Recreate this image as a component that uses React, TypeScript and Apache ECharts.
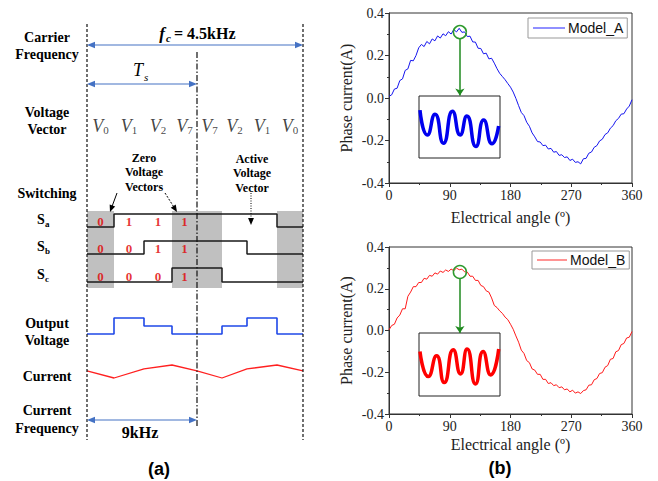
import React, { useEffect, useRef } from 'react';
import * as echarts from 'echarts';

// ---------- (a) switching diagram data ----------
const SEG_T = [0, 27, 57, 85, 110, 135, 160, 190, 216];
const VECTORS = ['0', '1', '2', '7', '7', '2', '1', '0'];
const SA = [0, 1, 1, 1, 1, 1, 1, 0];
const SB = [0, 0, 1, 1, 1, 1, 0, 0];
const SC = [0, 0, 0, 1, 1, 0, 0, 0];
const VOUT = [0, 2, 1, 0, 0, 1, 2, 0];
const CURRENT = [0.55, 0, 0.7, 1, 0.55, 0, 0.7, 1, 0.55];
const SHADED = [[0, 1], [3, 5], [7, 8]];

// ---------- (b) phase current data ----------
const ANGLES = [0, 4, 8, 12, 16, 20, 24, 28, 32, 36, 40, 44, 48, 52, 56, 60, 64, 68, 72, 76, 80, 84, 88, 92, 96, 100,
  104, 108, 112, 116, 120, 124, 128, 132, 136, 140, 144, 148, 152, 156, 160, 164, 168, 172, 176, 180, 184, 188, 192,
  196, 200, 204, 208, 212, 216, 220, 224, 228, 232, 236, 240, 244, 248, 252, 256, 260, 264, 268, 272, 276, 280, 284,
  288, 292, 296, 300, 304, 308, 312, 316, 320, 324, 328, 332, 336, 340, 344, 348, 352, 356, 360];
const MODEL_A = [0.008, 0.015, 0.042, 0.046, 0.082, 0.09, 0.13, 0.137, 0.177, 0.175, 0.2, 0.236, 0.252, 0.242, 0.266,
  0.255, 0.278, 0.269, 0.292, 0.282, 0.302, 0.293, 0.312, 0.301, 0.322, 0.311, 0.328, 0.309, 0.311, 0.289, 0.291, 0.264,
  0.263, 0.234, 0.233, 0.208, 0.211, 0.184, 0.187, 0.164, 0.138, 0.116, 0.101, 0.086, 0.068, 0.051, 0.028, -0.002,
  -0.036, -0.068, -0.083, -0.114, -0.133, -0.164, -0.183, -0.205, -0.207, -0.224, -0.222, -0.24, -0.237, -0.255,
  -0.252, -0.27, -0.267, -0.28, -0.277, -0.294, -0.288, -0.303, -0.3, -0.31, -0.286, -0.284, -0.26, -0.254, -0.232,
  -0.224, -0.202, -0.194, -0.172, -0.164, -0.142, -0.13, -0.107, -0.096, -0.076, -0.074, -0.052, -0.038, -0.008];
const MODEL_B = [0.003, 0.024, 0.03, 0.06, 0.074, 0.104, 0.104, 0.164, 0.184, 0.21, 0.21, 0.23, 0.23, 0.25, 0.246, 0.264,
  0.26, 0.276, 0.27, 0.285, 0.278, 0.29, 0.283, 0.294, 0.287, 0.299, 0.291, 0.294, 0.281, 0.28, 0.26, 0.26, 0.24, 0.24,
  0.216, 0.21, 0.19, 0.184, 0.156, 0.12, 0.11, 0.094, 0.082, 0.064, 0.052, 0.03, 0.006, -0.026, -0.056, -0.094, -0.11,
  -0.144, -0.154, -0.184, -0.19, -0.21, -0.21, -0.234, -0.234, -0.254, -0.25, -0.264, -0.26, -0.274, -0.27, -0.284,
  -0.28, -0.294, -0.286, -0.3, -0.294, -0.302, -0.288, -0.284, -0.262, -0.26, -0.236, -0.23, -0.206, -0.202, -0.176,
  -0.168, -0.138, -0.134, -0.102, -0.096, -0.068, -0.062, -0.036, -0.032, -0.005];
const X_TICKS = { min: 0, max: 360, interval: 90 };
const Y_TICKS = { min: -0.4, max: 0.4, interval: 0.2 };
// zoomed insets (x fraction, y value)
const INSET_A_X = [0.012, 0.103, 0.198, 0.302, 0.413, 0.508, 0.591, 0.702, 0.798, 0.901, 0.983];
const INSET_A_Y = [0.771, 0.372, 0.707, 0.239, 0.755, 0.372, 0.676, 0.186, 0.612, 0.229, 0.516];
const INSET_B_X = [0.012, 0.115, 0.217, 0.311, 0.422, 0.512, 0.594, 0.697, 0.791, 0.885, 0.984];
const INSET_B_Y = [0.707, 0.309, 0.638, 0.213, 0.734, 0.351, 0.745, 0.191, 0.707, 0.335, 0.745];
const ZOOM_A = { angle: 105, circle: 0.31, from: 0.282, to: 0.012 };
const ZOOM_B = { angle: 105, circle: 0.28, from: 0.247, to: -0.012 };

const SERIF = 'Liberation Serif';
const SANS = 'Liberation Sans';

function stepData(states: number[]) {
  const d = states.map((s, i) => [SEG_T[i], s]);
  d.push([SEG_T[SEG_T.length - 1], states[states.length - 1]]);
  return d;
}
function digitData(states: number[]) {
  return [0, 1, 2, 3].map((i) => [(SEG_T[i] + SEG_T[i + 1]) / 2, 0.42, states[i]]);
}

function arrowEls(x1: number, y1: number, x2: number, y2: number, color: string, o: any = {}) {
  const size = o.size ?? 7;
  const width = o.width ?? 1.2;
  const both = o.both ?? false;
  const dx = x2 - x1, dy = y2 - y1, L = Math.hypot(dx, dy);
  const ux = dx / L, uy = dy / L, nx = -uy, ny = ux;
  const w = size * 0.42;
  const head = (tx: number, ty: number, ax: number, ay: number) => ({
    type: 'polygon', silent: true, z: 20,
    shape: { points: [[tx, ty], [tx - ax * size + nx * w, ty - ay * size + ny * w], [tx - ax * size - nx * w, ty - ay * size - ny * w]] },
    style: { fill: color },
  });
  const els: any[] = [];
  let sx = x1, sy = y1;
  if (both) { els.push(head(x1, y1, -ux, -uy)); sx = x1 + ux * size * 0.8; sy = y1 + uy * size * 0.8; }
  els.push(head(x2, y2, ux, uy));
  const ex = x2 - ux * size * 0.8, ey = y2 - uy * size * 0.8;
  els.unshift({ type: 'line', silent: true, z: 20, shape: { x1: sx, y1: sy, x2: ex, y2: ey }, style: { stroke: color, lineWidth: width, lineDash: o.dash } });
  return els;
}

function txt(x: number, y: number, text: string, o: any = {}) {
  return {
    type: 'text', x, y, silent: true, z: 20,
    style: {
      text, fill: o.fill ?? '#000', fontFamily: o.fontFamily ?? SERIF, fontSize: o.fontSize ?? 14,
      fontWeight: o.fontWeight ?? 'bold', fontStyle: o.fontStyle ?? 'normal', align: o.align ?? 'center',
      verticalAlign: 'middle', lineHeight: o.lineHeight,
    },
  };
}

export default function App() {
  const ref = useRef<HTMLDivElement>(null);
  useEffect(() => {
    document.body.style.margin = '0';
    const chart = echarts.init(ref.current!, undefined, { renderer: 'svg' });

    const hiddenX = (g: number, min = 0, max = 216) => ({ type: 'value', gridIndex: g, min, max, show: false });
    const hiddenY = (g: number, min = 0, max = 1) => ({ type: 'value', gridIndex: g, min, max, show: false });

    const axisColor = '#333';
    const mainX = (g: number, gap: number) => ({
      type: 'value', gridIndex: g, ...X_TICKS,
      axisLine: { show: true, onZero: false, lineStyle: { color: axisColor, width: 1 } },
      axisTick: { show: true, inside: false, length: 4, lineStyle: { color: axisColor } },
      minorTick: { show: true, splitNumber: 2, length: 2, lineStyle: { color: axisColor } },
      splitLine: { show: false },
      axisLabel: { fontFamily: SERIF, fontSize: 14, color: '#222', margin: 5 },
      name: 'Electrical angle (º)', nameLocation: 'middle', nameGap: gap,
      nameTextStyle: { fontFamily: SERIF, fontSize: 16, color: '#222' },
    });
    const mainY = (g: number) => ({
      type: 'value', gridIndex: g, ...Y_TICKS,
      axisLine: { show: true, onZero: false, lineStyle: { color: axisColor, width: 1 } },
      axisTick: { show: true, inside: false, length: 4, lineStyle: { color: axisColor } },
      minorTick: { show: true, splitNumber: 2, length: 2, lineStyle: { color: axisColor } },
      splitLine: { show: false },
      axisLabel: { fontFamily: SERIF, fontSize: 14, color: '#222', margin: 5, formatter: (v: number) => v.toFixed(1) },
      name: 'Phase current(A)', nameLocation: 'middle', nameGap: 35,
      nameTextStyle: { fontFamily: SERIF, fontSize: 16, color: '#222' },
    });

    const blk = '#1a1a1a';
    const sLine = (g: number, states: number[]) => ({
      type: 'line', xAxisIndex: g, yAxisIndex: g, data: stepData(states), step: 'end', symbol: 'none', clip: false,
      lineStyle: { color: blk, width: 1.5 }, z: 3,
    });
    const digits = (g: number, states: number[]) => ({
      type: 'scatter', xAxisIndex: g, yAxisIndex: g, data: digitData(states), symbolSize: 1,
      itemStyle: { color: 'rgba(0,0,0,0)' }, z: 4, silent: true,
      label: { show: true, position: 'inside', formatter: (p: any) => String(p.value[2]), color: '#e00000', fontFamily: SERIF, fontWeight: 'bold', fontSize: 13 },
    });

    const zoomMarks = (z: any) => ({
      markPoint: {
        silent: true, symbol: 'circle', symbolSize: 13, label: { show: false },
        itemStyle: { color: 'rgba(0,0,0,0)', borderColor: '#2e9a2e', borderWidth: 1.5 },
        data: [{ coord: [z.angle, z.circle] }],
      },
      markLine: {
        silent: true, symbol: ['none', 'arrow'], symbolSize: 7, label: { show: false },
        lineStyle: { color: '#1f8a1f', width: 1.5, type: 'solid' },
        data: [[{ coord: [z.angle, z.from] }, { coord: [z.angle, z.to] }]],
      },
    });

    const graphics: any[] = [
      // vertical period lines
      { type: 'line', silent: true, z: 15, shape: { x1: 87, y1: 24, x2: 87, y2: 440 }, style: { stroke: '#111', lineWidth: 1.2, lineDash: [3, 2] } },
      { type: 'line', silent: true, z: 15, shape: { x1: 303, y1: 24, x2: 303, y2: 440 }, style: { stroke: '#111', lineWidth: 1.2, lineDash: [3, 2] } },
      { type: 'line', silent: true, z: 15, shape: { x1: 197, y1: 52, x2: 197, y2: 427 }, style: { stroke: '#111', lineWidth: 1.2, lineDash: [6, 2, 1.5, 2] } },
      ...arrowEls(87, 45, 303, 45, '#4472c4', { both: true, size: 8 }),
      ...arrowEls(87, 84, 197, 84, '#4472c4', { both: true, size: 8 }),
      ...arrowEls(87, 420, 197, 420, '#4472c4', { both: true, size: 8 }),
      ...arrowEls(117, 193, 110, 212, '#000', { size: 7, width: 1 }),
      ...arrowEls(165, 193, 177, 212, '#000', { size: 7, width: 1, dash: [2, 1.5] }),
      ...arrowEls(251, 193, 251, 225, '#000', { size: 7, width: 1, dash: [1, 1.5] }),
      // row labels
      txt(47, 45.5, 'Carrier\nFrequency', { lineHeight: 17 }),
      txt(47, 120.5, 'Voltage\nVector', { lineHeight: 17 }),
      txt(47, 193, 'Switching'),
      txt(41, 219, 'S'), txt(45, 224, 'a', { fontSize: 9, align: 'left' }),
      txt(41, 246, 'S'), txt(45, 251, 'b', { fontSize: 9, align: 'left' }),
      txt(41, 274, 'S'), txt(45, 279, 'c', { fontSize: 9, align: 'left' }),
      txt(47, 331.5, 'Output\nVoltage', { lineHeight: 17 }),
      txt(47, 376, 'Current'),
      txt(47, 419, 'Current\nFrequency', { lineHeight: 18 }),
      // annotations
      txt(162, 33, 'f', { fontSize: 17, fontStyle: 'italic' }),
      txt(166, 38, 'c', { fontSize: 11, fontStyle: 'italic', align: 'left' }),
      txt(174, 33, '= 4.5kHz', { fontSize: 16, align: 'left' }),
      txt(138, 70, 'T', { fontSize: 18, fontStyle: 'italic', fontWeight: 'normal' }),
      txt(144, 77, 's', { fontSize: 11, fontStyle: 'italic', fontWeight: 'normal', align: 'left' }),
      txt(144, 172, 'Zero\nVoltage\nVectors', { fontSize: 12, lineHeight: 14.5 }),
      txt(252, 173, 'Active\nVoltage\nVector', { fontSize: 12, lineHeight: 14.5 }),
      txt(140, 432, '9kHz', { fontSize: 16 }),
      txt(159, 469, '(a)', { fontSize: 18, fontFamily: SANS }),
      txt(500, 468, '(b)', { fontSize: 18, fontFamily: SANS }),
    ];

    const option: any = {
      animation: false,
      backgroundColor: '#fff',
      textStyle: { fontFamily: SERIF },
      grid: [
        { left: 87, width: 216, top: 211, height: 77 }, // 0 shade
        { left: 87, width: 216, top: 214, height: 13 }, // 1 Sa
        { left: 87, width: 216, top: 241, height: 13 }, // 2 Sb
        { left: 87, width: 216, top: 268, height: 14 }, // 3 Sc
        { left: 87, width: 216, top: 318, height: 16 }, // 4 Vout
        { left: 87, width: 216, top: 365, height: 13 }, // 5 current
        { left: 87, width: 216, top: 116, height: 20 }, // 6 vector labels
        { left: 389, width: 243, top: 13, height: 170, show: true, borderColor: axisColor, borderWidth: 1 }, // 7 A
        { left: 389, width: 243, top: 247, height: 167, show: true, borderColor: axisColor, borderWidth: 1 }, // 8 B
        { left: 419, width: 81, top: 96, height: 62, show: true, borderColor: '#222', borderWidth: 1, backgroundColor: '#fff', z: 5 }, // 9 inset A
        { left: 419, width: 81, top: 333, height: 63, show: true, borderColor: '#222', borderWidth: 1, backgroundColor: '#fff', z: 5 }, // 10 inset B
      ],
      xAxis: [
        hiddenX(0), hiddenX(1), hiddenX(2), hiddenX(3), hiddenX(4), hiddenX(5), hiddenX(6),
        mainX(7, 26), mainX(8, 22),
        hiddenX(9, 0, 1), hiddenX(10, 0, 1),
      ],
      yAxis: [
        hiddenY(0), hiddenY(1), hiddenY(2), hiddenY(3), hiddenY(4, 0, 2), hiddenY(5), hiddenY(6),
        mainY(7), mainY(8),
        hiddenY(9), hiddenY(10),
      ],
      legend: [
        {
          data: [{ name: 'Model_A', itemStyle: { color: '#6b6bff' } }], left: 528, top: 18, orient: 'horizontal',
          icon: 'rect', itemWidth: 32, itemHeight: 1.5, itemGap: 0, padding: [3, 4, 3, 5], borderColor: '#999', borderWidth: 1,
          textStyle: { fontFamily: SANS, fontSize: 14, color: '#111', padding: [0, 0, 0, -2] }, selectedMode: false,
        },
        {
          data: [{ name: 'Model_B', itemStyle: { color: '#ff7070' } }], left: 532, top: 251, orient: 'horizontal',
          icon: 'rect', itemWidth: 30, itemHeight: 1.5, itemGap: 0, padding: [2, 4, 2, 5], borderColor: '#999', borderWidth: 1,
          textStyle: { fontFamily: SANS, fontSize: 14, color: '#111', padding: [0, 0, 0, -2] }, selectedMode: false,
        },
      ],
      series: [
        {
          type: 'line', xAxisIndex: 0, yAxisIndex: 0, data: [[0, 0]], symbol: 'none', lineStyle: { opacity: 0 }, z: 1, silent: true,
          markArea: {
            silent: true, itemStyle: { color: '#c0c0c0', opacity: 1 },
            data: SHADED.map(([a, b]) => [{ xAxis: SEG_T[a] }, { xAxis: SEG_T[b] }]),
          },
        },
        sLine(1, SA), sLine(2, SB), sLine(3, SC),
        digits(1, SA), digits(2, SB), digits(3, SC),
        {
          type: 'line', xAxisIndex: 4, yAxisIndex: 4, data: stepData(VOUT), step: 'end', symbol: 'none', clip: false,
          lineStyle: { color: '#1f48e8', width: 1.6 },
        },
        {
          type: 'line', xAxisIndex: 5, yAxisIndex: 5, data: CURRENT.map((c, i) => [SEG_T[i], c]), symbol: 'none', clip: false,
          lineStyle: { color: '#ff2020', width: 1.3 },
        },
        {
          type: 'scatter', xAxisIndex: 6, yAxisIndex: 6, symbolSize: 1, itemStyle: { color: 'rgba(0,0,0,0)' }, silent: true,
          data: VECTORS.map((v, i) => [(SEG_T[i] + SEG_T[i + 1]) / 2, 0.5, v]),
          label: {
            show: true, position: 'inside', formatter: (p: any) => `{v|V}{s|${p.value[2]}}`,
            rich: {
              v: { fontFamily: SERIF, fontStyle: 'italic', fontSize: 18, color: '#111', verticalAlign: 'middle' },
              s: { fontFamily: SERIF, fontSize: 11, color: '#111', verticalAlign: 'bottom' },
            },
          },
        },
        {
          name: 'Model_A', type: 'line', xAxisIndex: 7, yAxisIndex: 7, symbol: 'none',
          data: ANGLES.map((a, i) => [a, MODEL_A[i]]), lineStyle: { color: '#1515ee', width: 1 }, itemStyle: { color: '#1515ee' },
          ...zoomMarks(ZOOM_A),
        },
        {
          name: 'Model_B', type: 'line', xAxisIndex: 8, yAxisIndex: 8, symbol: 'none',
          data: ANGLES.map((a, i) => [a, MODEL_B[i]]), lineStyle: { color: '#ff1a1a', width: 1 }, itemStyle: { color: '#ff1a1a' },
          ...zoomMarks(ZOOM_B),
        },
        {
          type: 'line', xAxisIndex: 9, yAxisIndex: 9, symbol: 'none', smooth: 0.6, z: 6,
          data: INSET_A_X.map((x, i) => [x, INSET_A_Y[i]]), lineStyle: { color: '#0000ee', width: 3.5 },
        },
        {
          type: 'line', xAxisIndex: 10, yAxisIndex: 10, symbol: 'none', smooth: 0.6, z: 6,
          data: INSET_B_X.map((x, i) => [x, INSET_B_Y[i]]), lineStyle: { color: '#ff0000', width: 3.5 },
        },
      ],
      graphic: graphics,
    };
    chart.setOption(option);
    return () => chart.dispose();
  }, []);
  return <div ref={ref} style={{ position: 'fixed', left: 0, top: 0, width: 658, height: 481 }} />;
}
